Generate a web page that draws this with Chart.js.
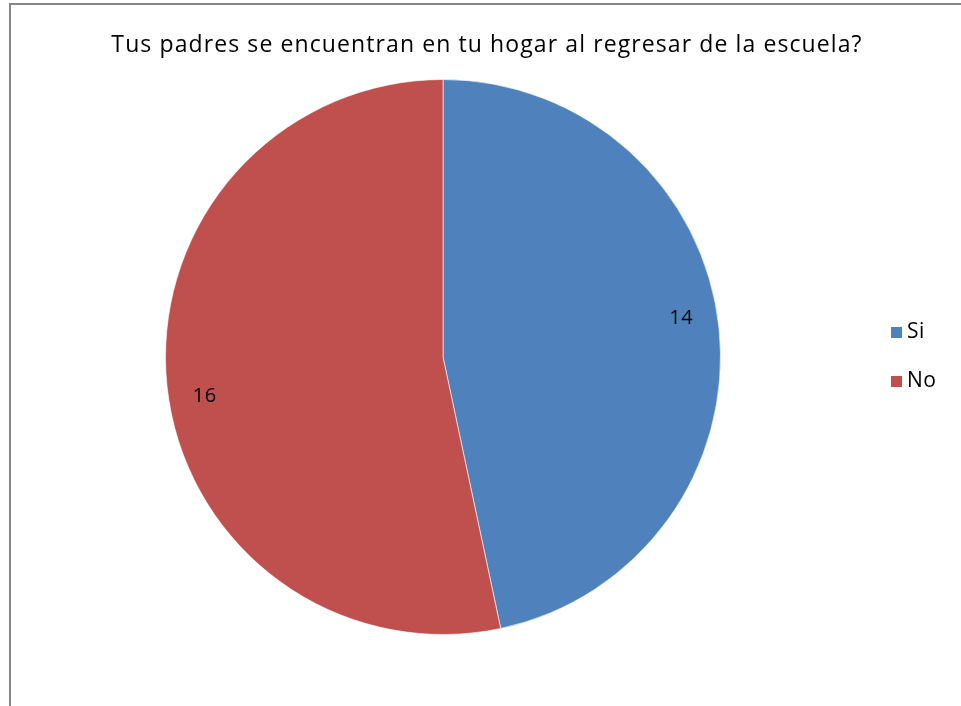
<!DOCTYPE html>
<html>
<head>
<meta charset="utf-8">
<script src="https://cdn.jsdelivr.net/npm/chart.js@4"></script>
<style>
  html, body { margin: 0; padding: 0; background: #fff; }
  #wrap { position: relative; width: 961px; height: 706px; overflow: hidden; }
  #frame { position: absolute; left: 9px; top: 3px; right: -5px; bottom: -5px;
           border-left: 2px solid #878787; border-top: 2px solid #878787; }
  canvas { position: absolute; left: 0; top: 0; }
</style>
</head>
<body>
<div id="wrap">
  <div id="frame"></div>
  <canvas id="pieChart" width="961" height="706"></canvas>
</div>
<script>
const chartTitle = 'Tus padres se encuentran en tu hogar al regresar de la escuela?';
const labels = ['Si', 'No'];
const values = [14, 16];
const colors = ['#4F81BD', '#C0504D'];

const fontFamily = '"Open Sans", "Liberation Sans", sans-serif';

// title, value labels and legend drawn by hand to match the original layout
const extras = {
  id: 'extras',
  afterDatasetsDraw(chart) {
    const ctx = chart.ctx;
    ctx.save();
    ctx.fillStyle = '#000';
    ctx.textBaseline = 'middle';

    ctx.font = '23px ' + fontFamily;
    ctx.letterSpacing = '1.1px';
    ctx.textAlign = 'center';
    ctx.fillText(chartTitle, 487, 45);
    ctx.letterSpacing = '0.5px';

    ctx.font = '20px ' + fontFamily;
    const meta = chart.getDatasetMeta(0);
    const shift = -3.3 * Math.PI / 180; // labels sit a little off the slice middle
    meta.data.forEach((arc, i) => {
      const mid = (arc.startAngle + arc.endAngle) / 2 + shift;
      const r = arc.outerRadius * 0.87;
      ctx.fillText(String(values[i]), arc.x + Math.cos(mid) * r, arc.y + Math.sin(mid) * r);
    });

    ctx.textAlign = 'left';
    ctx.font = '21px ' + fontFamily;
    labels.forEach((lab, i) => {
      const y = 332 + i * 49;
      ctx.fillStyle = colors[i];
      ctx.fillRect(891, y - 5, 11, 11);
      ctx.fillStyle = '#000';
      ctx.fillText(lab, 907, y);
    });
    ctx.restore();
  }
};

new Chart(document.getElementById('pieChart'), {
  type: 'pie',
  data: {
    labels: labels,
    datasets: [{
      data: values,
      backgroundColor: colors,
      borderColor: 'rgba(255,255,255,0.6)',
      borderWidth: 1
    }]
  },
  options: {
    responsive: false,
    animation: false,
    layout: { padding: { left: 165, right: 240, top: 78, bottom: 70 } },
    plugins: {
      legend: { display: false },
      title: { display: false },
      tooltip: { enabled: false }
    }
  },
  plugins: [extras]
});
</script>
</body>
</html>
